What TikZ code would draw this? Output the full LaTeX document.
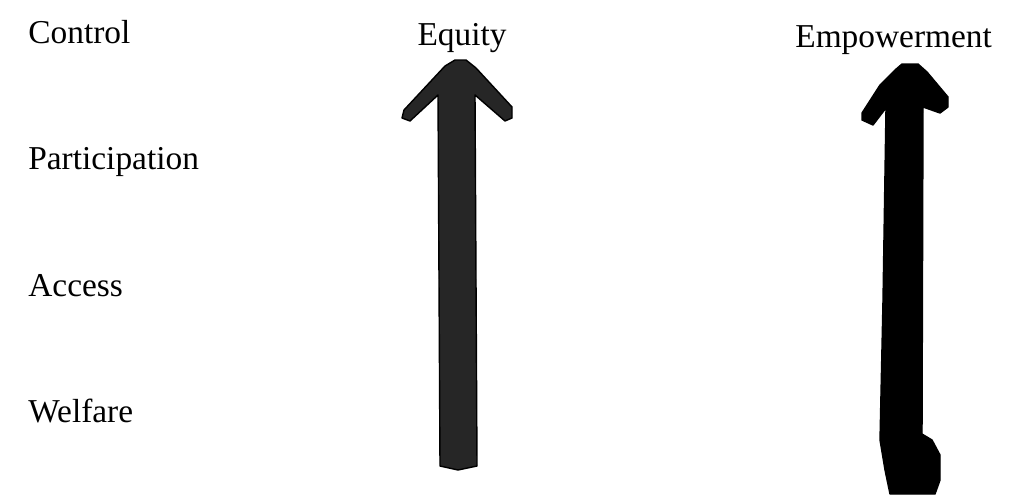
\documentclass[tikz,border=0pt]{standalone}
\usepackage{fontspec}
\setmainfont{Liberation Serif}
\tikzset{
  nivel/.style={font=\fontsize{19}{22}\selectfont, inner sep=0pt, anchor=base west},
  meta/.style={font=\fontsize{19}{22}\selectfont, inner sep=0pt, anchor=base},
  flecha/.style={draw=black, line join=round, thick}
}
\begin{document}
\begin{tikzpicture}[x=0.02cm, y=-0.02cm]
    % Marco de la figura
    \useasboundingbox (0,0) rectangle (1023,494);

    % Niveles (columna izquierda)
    \node[nivel] (control) at (28,43) {Control};
    \node[nivel] (participacion) at (28,169) {Participation};
    \node[nivel] (acceso) at (28,296) {Access};
    \node[nivel] (bienestar) at (28,422) {Welfare};

    % Titulos de las flechas
    \node[meta] (equidad) at (462,45) {Equity};
    \node[meta, anchor=base west] (empoderamiento) at (795,47) {Empowerment};

    % PRIMERA FLECHA (Equity), trazo a mano y algo granulado
    \draw[flecha, fill=black!85] (455,60) -- (466,60) -- (476,68) -- (512,107) -- (512,118) -- (505,121) -- (475,95)
        -- (477,466) -- (458,470) -- (440,466) -- (438,95) -- (410,121) -- (402,118) -- (404,110) -- (445,66) -- cycle;

    % SEGUNDA FLECHA (Empowerment), mas gruesa abajo
    \draw[flecha, fill=black] (902,64) -- (918,64) -- (927,72) -- (948,97) -- (948,107) -- (940,113) -- (923,107)
        -- (922,434) -- (932,440) -- (940,455) -- (940,480) -- (935,494) -- (890,494) -- (885,470)
        -- (880,440) -- (883,300) -- (886,108) -- (873,125) -- (862,120) -- (862,113) -- (880,85) -- (895,70) -- cycle;
\end{tikzpicture}
\end{document}
